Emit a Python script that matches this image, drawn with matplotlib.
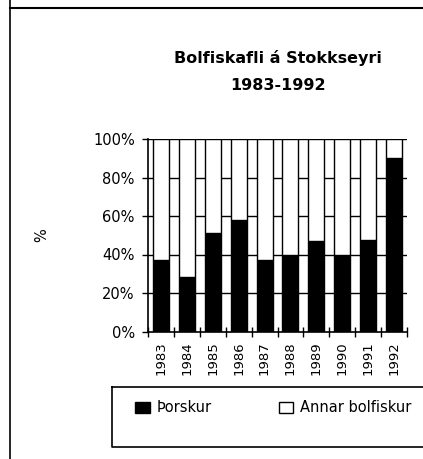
"""
Bolfiskafli á Stokkseyri 1983-1992 - hlutfall þorsks og annars bolfisks.
"""

import numpy as np
import matplotlib.pyplot as plt
from matplotlib.patches import Patch
from matplotlib.lines import Line2D

plt.rcParams['font.family'] = ['DejaVu Sans']

# --- Data ---
YEARS = ["1983", "1984", "1985", "1986", "1987", "1988", "1989", "1990", "1991", "1992"]
THORSKUR = [37, 28.5, 51, 58, 37, 39.5, 47, 39.5, 47.5, 90]  # %
ANNAR = [100 - v for v in THORSKUR]
Y_TICKS = [0, 20, 40, 60, 80, 100]


def main():
    W, H = 423, 459
    fig = plt.figure(figsize=(W / 100, H / 100), dpi=100)

    ax = fig.add_axes([148 / W, 1 - 331.5 / H, 259 / W, (331.5 - 139) / H])

    x = np.arange(len(YEARS))
    ax.bar(x, THORSKUR, width=0.62, color="black", edgecolor="black", linewidth=1, zorder=3)
    ax.bar(x, ANNAR, width=0.62, bottom=THORSKUR, color="white",
           edgecolor="black", linewidth=1, zorder=3)

    ax.set_xlim(-0.5, len(YEARS) - 0.5)
    ax.set_ylim(0, 100)

    ax.set_yticks(Y_TICKS)
    ax.set_yticklabels([f"{t}%" for t in Y_TICKS], fontsize=10.5)
    for t in Y_TICKS[1:]:
        ax.axhline(t, color="black", linewidth=1, zorder=1)

    ax.set_xticks(x)
    ax.set_xticklabels(YEARS, rotation=90, fontsize=9.5)
    ax.set_xticks(np.arange(-0.5, len(YEARS)), minor=True)
    ax.tick_params(axis="x", which="major", length=0, pad=7)
    ax.tick_params(axis="x", which="minor", direction="inout", length=7, width=1)
    ax.tick_params(axis="y", direction="out", length=4.5, width=1, pad=5)

    for side in ("top", "right"):
        ax.spines[side].set_visible(False)
    ax.spines["left"].set_linewidth(1.2)
    ax.spines["bottom"].set_linewidth(1.2)

    fig.text(42 / W, 1 - 235 / H, "%", rotation=90, ha="center", va="center", fontsize=10.5)

    # --- Title ---
    fig.text(278 / W, 1 - 63 / H, "Bolfiskafli á Stokkseyri", ha="center", va="baseline",
             fontsize=11.5, fontweight="bold")
    fig.text(278 / W, 1 - 90 / H, "1983-1992", ha="center", va="baseline",
             fontsize=11.5, fontweight="bold")

    # --- Legend box (right side runs off the page) ---
    box = [112, 387, 430, 447]
    fig.add_artist(Line2D([box[0] / W, box[2] / W, box[2] / W, box[0] / W, box[0] / W],
                          [1 - box[1] / H, 1 - box[1] / H, 1 - box[3] / H, 1 - box[3] / H,
                           1 - box[1] / H],
                          color="black", linewidth=1.2, transform=fig.transFigure))
    handles = [Patch(facecolor="black", edgecolor="black"),
               Patch(facecolor="white", edgecolor="black")]
    fig.legend(handles, ["Þorskur", "Annar bolfiskur"], ncol=2, frameon=False,
               loc="center left", bbox_to_anchor=(128 / W, 1 - 408 / H), borderpad=0,
               fontsize=10.5, handlelength=1.0, handleheight=0.8,
               columnspacing=4.6, handletextpad=0.45)

    # --- Page frame lines ---
    fig.add_artist(Line2D([9.5 / W, 9.5 / W], [0, 1], color="black", linewidth=1.2,
                          transform=fig.transFigure))
    fig.add_artist(Line2D([9.5 / W, 1], [1 - 8 / H, 1 - 8 / H], color="black",
                          linewidth=1.5, transform=fig.transFigure))

    fig.savefig("out.png", dpi=100)


if __name__ == "__main__":
    main()
